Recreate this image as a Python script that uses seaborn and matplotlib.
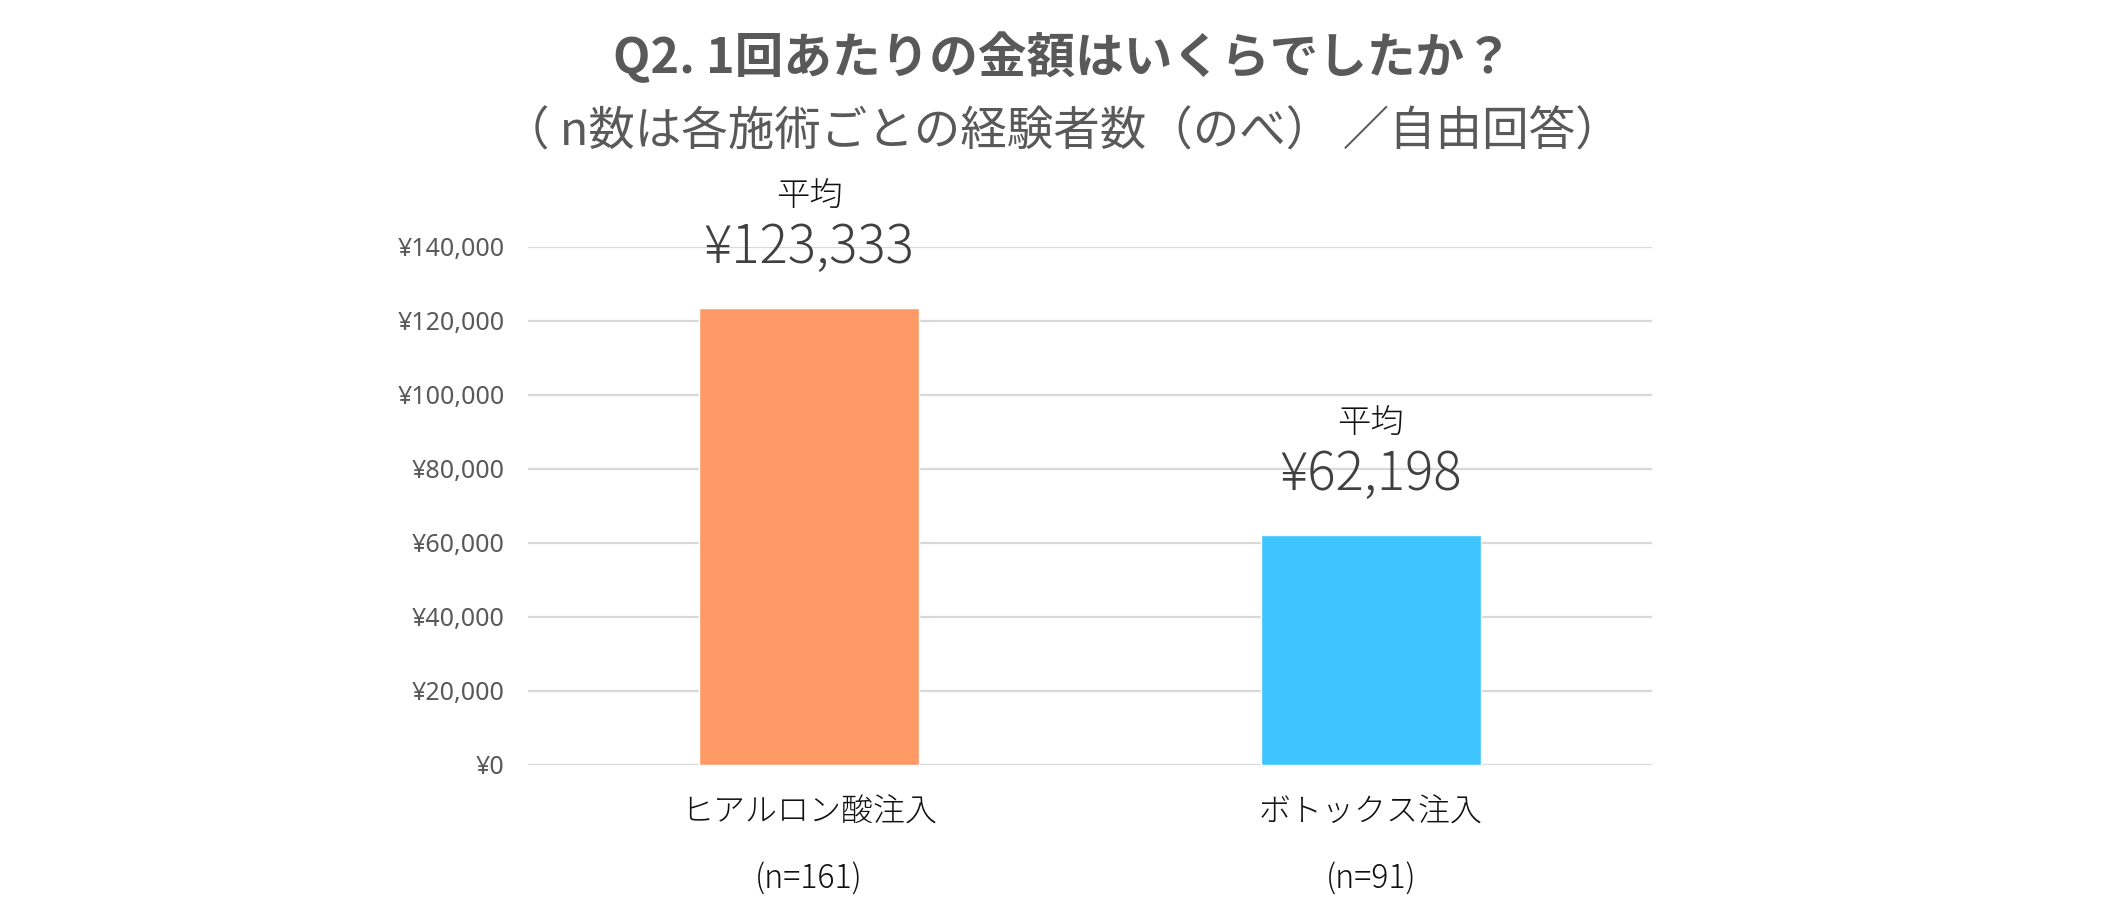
import matplotlib
matplotlib.use("Agg")
import matplotlib.pyplot as plt
import seaborn as sns
import pandas as pd

# data
treatments = ["ヒアルロン酸注入", "ボトックス注入"]
n_counts = [161, 91]
avg_price = [123333, 62198]
bar_colors = ["#FF9A66", "#3EC4FF"]
y_ticks = [0, 20000, 40000, 60000, 80000, 100000, 120000, 140000]

sns.set_theme(style="white")
plt.rcParams["font.family"] = ["Noto Sans CJK JP", "DejaVu Sans"]

df = pd.DataFrame({"treatment": treatments, "price": avg_price})

fig = plt.figure(figsize=(21.25, 9.05), dpi=100)
ax = fig.add_axes([0.2485, 0.1547, 0.5289, 0.5729])

sns.barplot(data=df, x="treatment", y="price", hue="treatment",
            palette=bar_colors, width=0.39, legend=False, ax=ax,
            saturation=1)

ax.set_ylim(0, 140000)
ax.set_yticks(y_ticks)
ax.set_yticklabels([f"¥{v:,}" for v in y_ticks],
                   fontsize=18, color="#595959", family=["Noto Sans", "DejaVu Sans"])
ax.yaxis.grid(True, color="#D9D9D9", linewidth=1.6)
ax.set_axisbelow(True)
for s in ax.spines.values():
    s.set_visible(False)
ax.tick_params(axis="y", length=0, pad=17)
ax.tick_params(axis="x", length=0, pad=22)
ax.set_xlabel("")
ax.set_ylabel("")

ax.set_xticks(range(len(treatments)))
ax.set_xticklabels([f"{t}\n(n={n})" for t, n in zip(treatments, n_counts)],
                   fontsize=23, color="#111111", linespacing=2.2,
                   fontweight="light")

# average labels above each bar
for i, v in enumerate(avg_price):
    ax.annotate("平均", (i, v), xytext=(0, 80), textcoords="offset points",
                ha="center", va="center", fontsize=24, color="#111111",
                fontweight="light")
    ax.annotate(f"¥{v:,}", (i, v), xytext=(0, 43), textcoords="offset points",
                ha="center", va="center", fontsize=38, color="#404040",
                fontweight="light")

fig.text(0.5, 1 - 57 / 905, "Q2. 1回あたりの金額はいくらでしたか？",
         ha="center", va="center", fontsize=35, fontweight="bold", color="#595959")
fig.text(0.5, 1 - 132 / 905, "（ n数は各施術ごとの経験者数（のべ） ／自由回答）",
         ha="center", va="center", fontsize=33.5, color="#595959")

fig.savefig("out.png", dpi=100)
